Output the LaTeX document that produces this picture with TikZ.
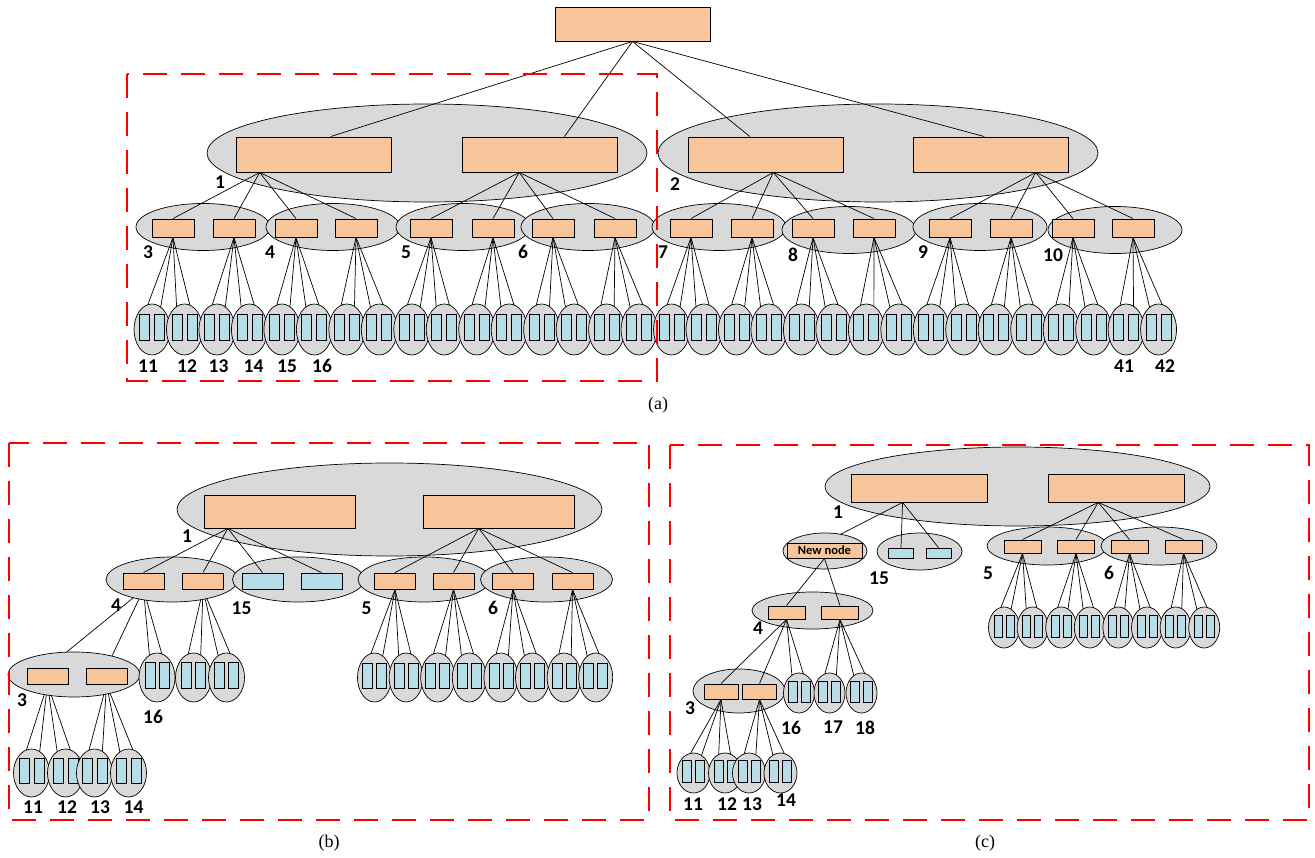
\documentclass[tikz,border=0pt]{standalone}
\usepackage{fontspec}
\setmainfont{Liberation Serif}
\newfontfamily\numfont{Carlito}
\usetikzlibrary{shapes.geometric,calc}

\definecolor{peach}{RGB}{248,196,153}
\definecolor{shellgray}{RGB}{217,217,217}
\definecolor{leafblue}{RGB}{183,221,232}

\pgfdeclarelayer{back}
\pgfdeclarelayer{top}
\pgfdeclarelayer{frames}
\pgfsetlayers{back,main,top,frames}

\begin{document}
\begin{tikzpicture}[x=1pt,y=-1pt,
    sz/.style 2 args={minimum width=#1pt,minimum height=#2pt},
    box/.style={draw,fill=peach,inner sep=0pt,line width=0.9pt},
    leaf/.style={draw,fill=leafblue,inner sep=0pt,line width=0.8pt},
    shell/.style={ellipse,draw,fill=shellgray,inner sep=0pt,line width=0.7pt},
    link/.style={line width=0.7pt},
    redframe/.style={draw=red,line width=1.8pt,dash pattern=on 24pt off 14pt},
    num/.style={font=\numfont\bfseries\fontsize{19.5}{19.5}\selectfont,inner sep=0pt},
    subcap/.style={font=\fontsize{18}{18}\selectfont,inner sep=0pt}]
  \useasboundingbox (0,0) rectangle (1315,858);

  % ---------------- (a) the whole tree ----------------
  \node[box,sz={155}{34}] (aroot) at (632.5,24) {};
  \node[shell,sz={440}{98}] (aE1) at (427,153) {};
  \node[shell,sz={440}{98}] (aE2) at (878,153) {};
  \node[box,sz={155}{35}] (a1a) at (313.5,154.5) {};
  \node[box,sz={155}{35}] (a1b) at (539.5,154.5) {};
  \node[box,sz={155}{35}] (a2a) at (765.5,154.5) {};
  \node[box,sz={155}{35}] (a2b) at (990.5,154.5) {};
  \node[num] (aN1) at (220,182) {1};
  \node[num] (aN2) at (675,184) {2};
  % root down to the four big boxes
  \foreach \b/\f in {a1a/0.61,a1b/0.66,a2a/0.40,a2b/0.46}
    \draw[link] (aroot.south) -- ($(\b.north west)!\f!(\b.north east)$);
  % second level: clusters 3 to 10
  \foreach \n/\ex/\ey/\bl/\br/\lx in {3/203/227/173/234/148, 4/333/227/296/356/270,
      5/463/227/431/493/406, 6/588/227/553/615/523, 7/719/227/691/752/663,
      8/849/230/813/874/793, 9/980/227/950/1011/923, 10/1115/230/1073/1133/1053}{
    \node[shell,sz={134}{47}] (aS\n) at (\ex,\ey) {};
    \node[box,sz={42}{18}] (a\n-1) at (\bl,228) {};
    \node[box,sz={42}{18}] (a\n-2) at (\br,228) {};
    \node[num] (aN\n) at (\lx,\ey+25) {\n};
  }
  \foreach \b/\f/\p/\q in {a1a/0.155/3/4, a1b/0.37/5/6, a2a/0.55/7/8, a2b/0.79/9/10}{
    \coordinate (\b-src) at ($(\b.south west)!\f!(\b.south east)$);
    \foreach \lab in {\p-1,\p-2,\q-1,\q-2}
      \draw[link] (\b-src) -- (a\lab.north);
  }
  % leaves: 32 clusters of two
  \begin{pgfonlayer}{top}
    \foreach \k in {0,...,31}{
      \node[shell,sz={36}{51}] (aL\k) at (152+32.47*\k,329.5) {};
      \node[leaf,sz={10}{26}] (aL\k-1) at ($(aL\k)+(-7.5,-2.5)$) {};
      \node[leaf,sz={10}{26}] (aL\k-2) at ($(aL\k)+(7.5,-2.5)$) {};
    }
  \end{pgfonlayer}
  \foreach \n [count=\j from 0] in {3,...,10}{
    \pgfmathtruncatemacro{\ka}{4*\j}
    \pgfmathtruncatemacro{\kb}{4*\j+1}
    \pgfmathtruncatemacro{\kc}{4*\j+2}
    \pgfmathtruncatemacro{\kd}{4*\j+3}
    \foreach \lab in {\ka-1,\ka-2,\kb-1,\kb-2} \draw[link] (a\n-1.south) -- (aL\lab.north);
    \foreach \lab in {\kc-1,\kc-2,\kd-1,\kd-2} \draw[link] (a\n-2.south) -- (aL\lab.north);
  }
  \foreach \lab/\x in {11/148,12/187,13/218.5,14/253.5,15/287,16/322,41/1124,42/1165}
    \node[num] (aT\lab) at (\x,366) {\lab};
  \node[subcap] (capa) at (658,405) {(a)};

  % ---------------- (b) ----------------
  \node[shell,sz={425}{93}] (bE1) at (389.5,509.5) {};
  \node[box,sz={151}{33}] (b1a) at (279.5,511.5) {};
  \node[box,sz={151}{33}] (b1b) at (498.5,511.5) {};
  \node[num] (bN1) at (187,536.5) {1};
  \foreach \n/\ex/\bl/\br/\col/\lx/\ly in {4/172/143.5/203/peach/116/605,
      15/298.5/262.5/321.5/leafblue/241.5/608.5, 5/424/395/453.5/peach/366.5/608,
      6/546.5/513/572.5/peach/493/608}{
    \node[shell,sz={132}{45}] (bS\n) at (\ex,579.5) {};
    \node[box,fill=\col,sz={41}{16}] (b\n-1) at (\bl,581) {};
    \node[box,fill=\col,sz={41}{16}] (b\n-2) at (\br,581) {};
    \node[num] (bN\n) at (\lx,\ly) {\n};
  }
  \coordinate (b1a-src) at ($(b1a.south west)!0.16!(b1a.south east)$);
  \coordinate (b1b-src) at ($(b1b.south west)!0.37!(b1b.south east)$);
  \foreach \lab in {b4-1,b4-2,b15-1,b15-2} \draw[link] (b1a-src) -- (\lab.north);
  \foreach \lab in {b5-1,b5-2,b6-1,b6-2} \draw[link] (b1b-src) -- (\lab.north);
  \begin{pgfonlayer}{top}
    % cluster 3 moved down under 4
    \node[shell,sz={132}{45}] (bS3) at (74,674.5) {};
    \node[box,sz={41}{16}] (b3-1) at (47.5,676) {};
    \node[box,sz={41}{16}] (b3-2) at (106.5,676) {};
    \foreach \lab/\x in {16/157,17/193.5,18/226.5}{
      \node[shell,sz={36}{49}] (bL\lab) at (\x,677.5) {};
      \node[leaf,sz={10}{26}] (bL\lab-1) at ($(bL\lab)+(-7,-2.5)$) {};
      \node[leaf,sz={10}{26}] (bL\lab-2) at ($(bL\lab)+(7,-2.5)$) {};
    }
    \foreach \lab/\x in {11/31.5,12/65.5,13/94.5,14/128.5}{
      \node[shell,sz={36}{48}] (bL\lab) at (\x,773) {};
      \node[leaf,sz={10}{25}] (bL\lab-1) at ($(bL\lab)+(-7.5,-2.5)$) {};
      \node[leaf,sz={10}{25}] (bL\lab-2) at ($(bL\lab)+(7.5,-2.5)$) {};
    }
    \foreach \k in {0,...,7}{
      \node[shell,sz={34}{49}] (bM\k) at (374.5+31.6*\k,677.5) {};
      \node[leaf,sz={10}{25}] (bM\k-1) at ($(bM\k)+(-7,-2)$) {};
      \node[leaf,sz={10}{25}] (bM\k-2) at ($(bM\k)+(7,-2)$) {};
    }
  \end{pgfonlayer}
  \begin{pgfonlayer}{back}
    \foreach \lab in {b3-1,b3-2,bL16-1,bL16-2} \draw[link] (b4-1.south) -- (\lab.north);
    \foreach \lab in {bL17-1,bL17-2,bL18-1,bL18-2} \draw[link] (b4-2.south) -- (\lab.north);
  \end{pgfonlayer}
  \foreach \lab in {bL11-1,bL11-2,bL12-1,bL12-2} \draw[link] (b3-1.south) -- (\lab.north);
  \foreach \lab in {bL13-1,bL13-2,bL14-1,bL14-2} \draw[link] (b3-2.south) -- (\lab.north);
  \foreach \n [count=\j from 0] in {5,6}{
    \pgfmathtruncatemacro{\ka}{4*\j}
    \pgfmathtruncatemacro{\kb}{4*\j+1}
    \pgfmathtruncatemacro{\kc}{4*\j+2}
    \pgfmathtruncatemacro{\kd}{4*\j+3}
    \foreach \lab in {\ka-1,\ka-2,\kb-1,\kb-2} \draw[link] (b\n-1.south) -- (bM\lab.north);
    \foreach \lab in {\kc-1,\kc-2,\kd-1,\kd-2} \draw[link] (b\n-2.south) -- (bM\lab.north);
  }
  \node[num] (bN3) at (22,700.5) {3};
  \foreach \lab/\x/\y in {16/153/716.5,11/33/807,12/67/807,13/100/807,14/133.5/807}
    \node[num] (bT\lab) at (\x,\y) {\lab};
  \node[subcap] (capb) at (329,843) {(b)};

  % ---------------- (c) after inserting a new node ----------------
  \node[shell,sz={385}{79}] (cE1) at (1017.5,486.5) {};
  \node[box,sz={136}{28}] (c1a) at (919,488) {};
  \node[box,sz={136}{28}] (c1b) at (1116,488) {};
  \node[num] (cN1) at (838,512) {1};
  \node[shell,sz={85}{37}] (cS15) at (919.5,551.5) {};
  \node[leaf,sz={25}{10}] (c15-1) at (901,553) {};
  \node[leaf,sz={25}{10}] (c15-2) at (938.5,553) {};
  \foreach \n/\ex/\ew/\bl/\br/\lx in {5/1047/120/1022.5/1076/988, 6/1159/116/1129.5/1183.5/1109}{
    \node[shell,sz={\ew}{38}] (cS\n) at (\ex,546) {};
    \node[box,sz={37}{13}] (c\n-1) at (\bl,546.5) {};
    \node[box,sz={37}{13}] (c\n-2) at (\br,546.5) {};
    \node[num] (cN\n) at (\lx,573) {\n};
  }
  \node[shell,sz={121}{37}] (cS4) at (812.5,610.5) {};
  \node[box,sz={37}{13}] (c4-1) at (786.5,612.5) {};
  \node[box,sz={37}{13}] (c4-2) at (840,612.5) {};
  \node[shell,sz={92}{44}] (cS3) at (739,691) {};
  \node[box,sz={34}{15}] (c3-1) at (721,691.5) {};
  \node[box,sz={34}{15}] (c3-2) at (759.5,691.5) {};
  \node[num] (cN15) at (879,578.5) {15};
  \node[num] (cN4) at (758,628.5) {4};
  \node[num] (cN3) at (690,708.5) {3};
  \begin{pgfonlayer}{top}
    % the inserted node
    \node[shell,sz={84}{36}] (cSnew) at (825,551) {};
    \node[box,sz={75}{15},font=\numfont\bfseries\fontsize{12.5}{12.5}\selectfont] (cnew) at (824.5,550.5) {New node};
    \draw[link] (cnew.south) -- (c4-1.north);
    \draw[link] (cnew.south) -- (c4-2.north);
    \foreach \lab/\x in {16/799,17/829.5,18/861.5}{
      \node[shell,sz={31}{40}] (cL\lab) at (\x,693) {};
      \node[leaf,sz={9}{21}] (cL\lab-1) at ($(cL\lab)+(-6.5,-1.5)$) {};
      \node[leaf,sz={9}{21}] (cL\lab-2) at ($(cL\lab)+(6.5,-1.5)$) {};
    }
    \foreach \lab/\x in {11/693.5,12/725,13/749,14/780.5}{
      \node[shell,sz={33}{40}] (cL\lab) at (\x,773) {};
      \node[leaf,sz={9}{22}] (cL\lab-1) at ($(cL\lab)+(-6.5,-2)$) {};
      \node[leaf,sz={9}{22}] (cL\lab-2) at ($(cL\lab)+(6.5,-2)$) {};
    }
    \foreach \k in {0,...,7}{
      \node[shell,sz={31}{41}] (cM\k) at (1004+28.6*\k,627.5) {};
      \node[leaf,sz={8}{22}] (cM\k-1) at ($(cM\k)+(-6,-1.5)$) {};
      \node[leaf,sz={8}{22}] (cM\k-2) at ($(cM\k)+(6,-1.5)$) {};
    }
  \end{pgfonlayer}
  \coordinate (c1a-src) at ($(c1a.south west)!0.38!(c1a.south east)$);
  \coordinate (c1b-src) at ($(c1b.south west)!0.37!(c1b.south east)$);
  \foreach \lab in {cnew,c15-1,c15-2} \draw[link] (c1a-src) -- (\lab.north);
  \foreach \lab in {c5-1,c5-2,c6-1,c6-2} \draw[link] (c1b-src) -- (\lab.north);
  \foreach \lab in {c3-1,c3-2,cL16-1,cL16-2} \draw[link] (c4-1.south) -- (\lab.north);
  \foreach \lab in {cL17-1,cL17-2,cL18-1,cL18-2} \draw[link] (c4-2.south) -- (\lab.north);
  \foreach \lab in {cL11-1,cL11-2,cL12-1,cL12-2} \draw[link] (c3-1.south) -- (\lab.north);
  \foreach \lab in {cL13-1,cL13-2,cL14-1,cL14-2} \draw[link] (c3-2.south) -- (\lab.north);
  \foreach \n [count=\j from 0] in {5,6}{
    \pgfmathtruncatemacro{\ka}{4*\j}
    \pgfmathtruncatemacro{\kb}{4*\j+1}
    \pgfmathtruncatemacro{\kc}{4*\j+2}
    \pgfmathtruncatemacro{\kd}{4*\j+3}
    \foreach \lab in {\ka-1,\ka-2,\kb-1,\kb-2} \draw[link] (c\n-1.south) -- (cM\lab.north);
    \foreach \lab in {\kc-1,\kc-2,\kd-1,\kd-2} \draw[link] (c\n-2.south) -- (cM\lab.north);
  }
  \foreach \lab/\x/\y in {16/791/727.5,17/833/727.5,18/865/727.5,11/693/804.5,12/727/804.5,13/752/804.5,14/786/800.5}
    \node[num] (cT\lab) at (\x,\y) {\lab};
  \node[subcap] (capc) at (985,843) {(c)};

  % dashed frames round the parts that are shown again
  \begin{pgfonlayer}{frames}
    \draw[redframe] (127,74) rectangle (657,381);
    \draw[redframe] (9,443) rectangle (649,820);
    \draw[redframe] (670,445) rectangle (1309,820);
  \end{pgfonlayer}
\end{tikzpicture}
\end{document}
